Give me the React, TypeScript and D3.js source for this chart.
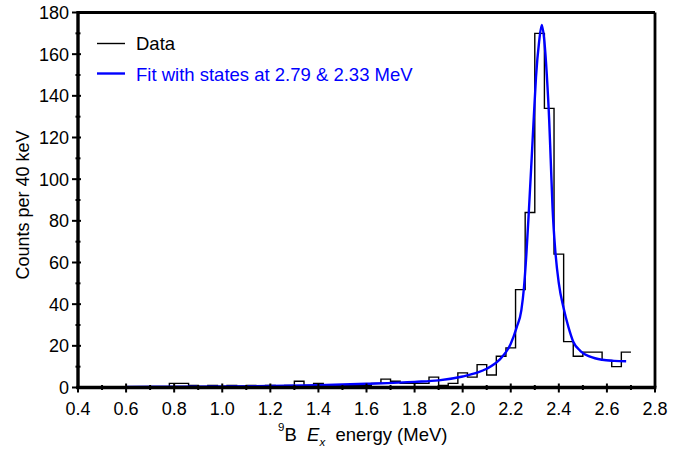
import React from "react";
import * as d3 from "d3";

// Histogram bins (left edges, MeV) and counts per 40 keV
const binEdges = [
  0.42, 0.46, 0.5, 0.54, 0.58, 0.62, 0.66, 0.7, 0.74, 0.78, 0.82, 0.86, 0.9, 0.94, 0.98,
  1.02, 1.06, 1.1, 1.14, 1.18, 1.22, 1.26, 1.3, 1.34, 1.38, 1.42, 1.46, 1.5, 1.54, 1.58,
  1.62, 1.66, 1.7, 1.74, 1.78, 1.82, 1.86, 1.9, 1.94, 1.98, 2.02, 2.06, 2.1, 2.14, 2.18,
  2.22, 2.26, 2.3, 2.34, 2.38, 2.42, 2.46, 2.5, 2.54, 2.58, 2.62, 2.66,
];
const binCounts = [
  0, 0, 0, 0, 0, 0, 0, 0, 0, 2, 2, 1, 0, 1, 0,
  1, 0, 1, 0, 1, 0, 1, 3, 1, 2, 0, 1, 1, 1, 1,
  2, 4, 3, 2, 2, 2, 5, 1, 2, 7, 5, 11, 6, 15, 19,
  47, 84, 170, 134, 64, 22, 15, 17, 17, 13, 10, 17,
];
const binWidth = 0.04;

// Fit curve
const fitE = [
  0.6, 0.8, 1.0, 1.2, 1.4, 1.6, 1.8, 1.9, 2.0, 2.06, 2.1, 2.15, 2.2, 2.225, 2.244, 2.255,
  2.265, 2.275, 2.287, 2.296, 2.305, 2.318, 2.329, 2.34, 2.35, 2.36, 2.366, 2.374, 2.385,
  2.4, 2.42, 2.44, 2.46, 2.49, 2.53, 2.58, 2.63, 2.68,
];
const fitC = [
  0.3, 0.4, 0.5, 0.7, 1.1, 1.8, 2.7, 3.4, 5.3, 7.1, 9.0, 13.0, 21.0, 29, 37, 48,
  64, 84, 110, 130, 149, 166, 174, 166, 150, 128, 110, 86, 66,
  50, 38, 29, 22, 17.5, 14.8, 13.3, 12.8, 12.6,
];

const xMajor = [0.4, 0.6, 0.8, 1.0, 1.2, 1.4, 1.6, 1.8, 2.0, 2.2, 2.4, 2.6, 2.8];
const xMinor = [0.5, 0.7, 0.9, 1.1, 1.3, 1.5, 1.7, 1.9, 2.1, 2.3, 2.5, 2.7];
const yMajor = [0, 20, 40, 60, 80, 100, 120, 140, 160, 180];
const yMinor = [10, 30, 50, 70, 90, 110, 130, 150, 170];

const legendLabels = ["Data", "Fit with states at 2.79 & 2.33 MeV"];

export default function App() {
  const W = 691, H = 450;
  const left = 78, right = 655, top = 12.5, bottom = 387.5;
  const x = d3.scaleLinear().domain([0.4, 2.8]).range([left, right]);
  const y = d3.scaleLinear().domain([0, 180]).range([bottom, top]);
  const font = "'Liberation Sans', Arial, Helvetica, sans-serif";

  const histPts: [number, number][] = binEdges.map((e, i) => [e, binCounts[i]]);
  histPts.push([binEdges[binEdges.length - 1] + binWidth, binCounts[binCounts.length - 1]]);
  const histPath = d3
    .line<[number, number]>()
    .x((d) => x(d[0]))
    .y((d) => y(d[1]))
    .curve(d3.curveStepAfter)(histPts) as string;

  const fitPath = d3
    .line<number>()
    .x((_, i) => x(fitE[i]))
    .y((d) => y(d))
    .curve(d3.curveMonotoneX)(fitC) as string;

  return (
    <svg width={W} height={H} style={{ display: "block", position: "absolute", left: 0, top: 0 }}>
      <rect width={W} height={H} fill="#fff" />
      <path d={histPath} fill="none" stroke="#000" strokeWidth={1.4} />
      <path d={fitPath} fill="none" stroke="#0000ff" strokeWidth={2.4} />

      {/* frame */}
      <line x1={left} x2={right} y1={top} y2={top} stroke="#000" strokeWidth={2.8} />
      <line x1={right} x2={right} y1={top} y2={bottom} stroke="#000" strokeWidth={2.8} />
      <line x1={left} x2={left} y1={top - 1.4} y2={bottom + 1.6} stroke="#000" strokeWidth={3.4} />
      <line x1={left - 1.7} x2={right + 1.4} y1={bottom} y2={bottom} stroke="#000" strokeWidth={3.4} />

      {/* x ticks */}
      {xMajor.map((v) => (
        <g key={"xm" + v}>
          <line x1={x(v)} x2={x(v)} y1={bottom - 4} y2={bottom + 5} stroke="#000" strokeWidth={2} />
          <text x={x(v)} y={bottom + 27} textAnchor="middle" fontFamily={font} fontSize={18} fill="#000">
            {v.toFixed(1)}
          </text>
        </g>
      ))}
      {xMinor.map((v) => (
        <line key={"xn" + v} x1={x(v)} x2={x(v)} y1={bottom - 2.5} y2={bottom + 2.5} stroke="#000" strokeWidth={2} />
      ))}

      {/* y ticks */}
      {yMajor.map((v) => (
        <g key={"ym" + v}>
          <line x1={left - 6} x2={left + 3} y1={y(v)} y2={y(v)} stroke="#000" strokeWidth={2} />
          <text x={left - 9} y={y(v) + 6.5} textAnchor="end" fontFamily={font} fontSize={18} fill="#000">
            {v}
          </text>
        </g>
      ))}
      {yMinor.map((v) => (
        <line key={"yn" + v} x1={left - 2.5} x2={left + 2.5} y1={y(v)} y2={y(v)} stroke="#000" strokeWidth={2} />
      ))}

      {/* axis titles */}
      <text
        transform={`translate(29, ${(top + bottom) / 2 + 5}) rotate(-90)`}
        textAnchor="middle"
        fontFamily={font}
        fontSize={18}
        fill="#000"
      >
        Counts per 40 keV
      </text>
      <text x={278} y={441} fontFamily={font} fontSize={18.5} fill="#000" style={{ whiteSpace: "pre" }}>
        <tspan fontSize={11.5} dy={-10}>9</tspan>
        <tspan dy={10}>{"B  "}</tspan>
        <tspan fontStyle="italic">E</tspan>
        <tspan fontStyle="italic" fontSize={11.5} dy={5}>x</tspan>
        <tspan dy={-5}>{"  energy (MeV)"}</tspan>
      </text>

      {/* legend */}
      <line x1={97} x2={125} y1={43.5} y2={43.5} stroke="#000" strokeWidth={1.4} />
      <text x={136} y={50} fontFamily={font} fontSize={18.5} fill="#000">
        {legendLabels[0]}
      </text>
      <line x1={97} x2={125} y1={73.5} y2={73.5} stroke="#0000ff" strokeWidth={2.4} />
      <text x={136} y={81} fontFamily={font} fontSize={18.5} fill="#0000ff">
        {legendLabels[1]}
      </text>
    </svg>
  );
}
